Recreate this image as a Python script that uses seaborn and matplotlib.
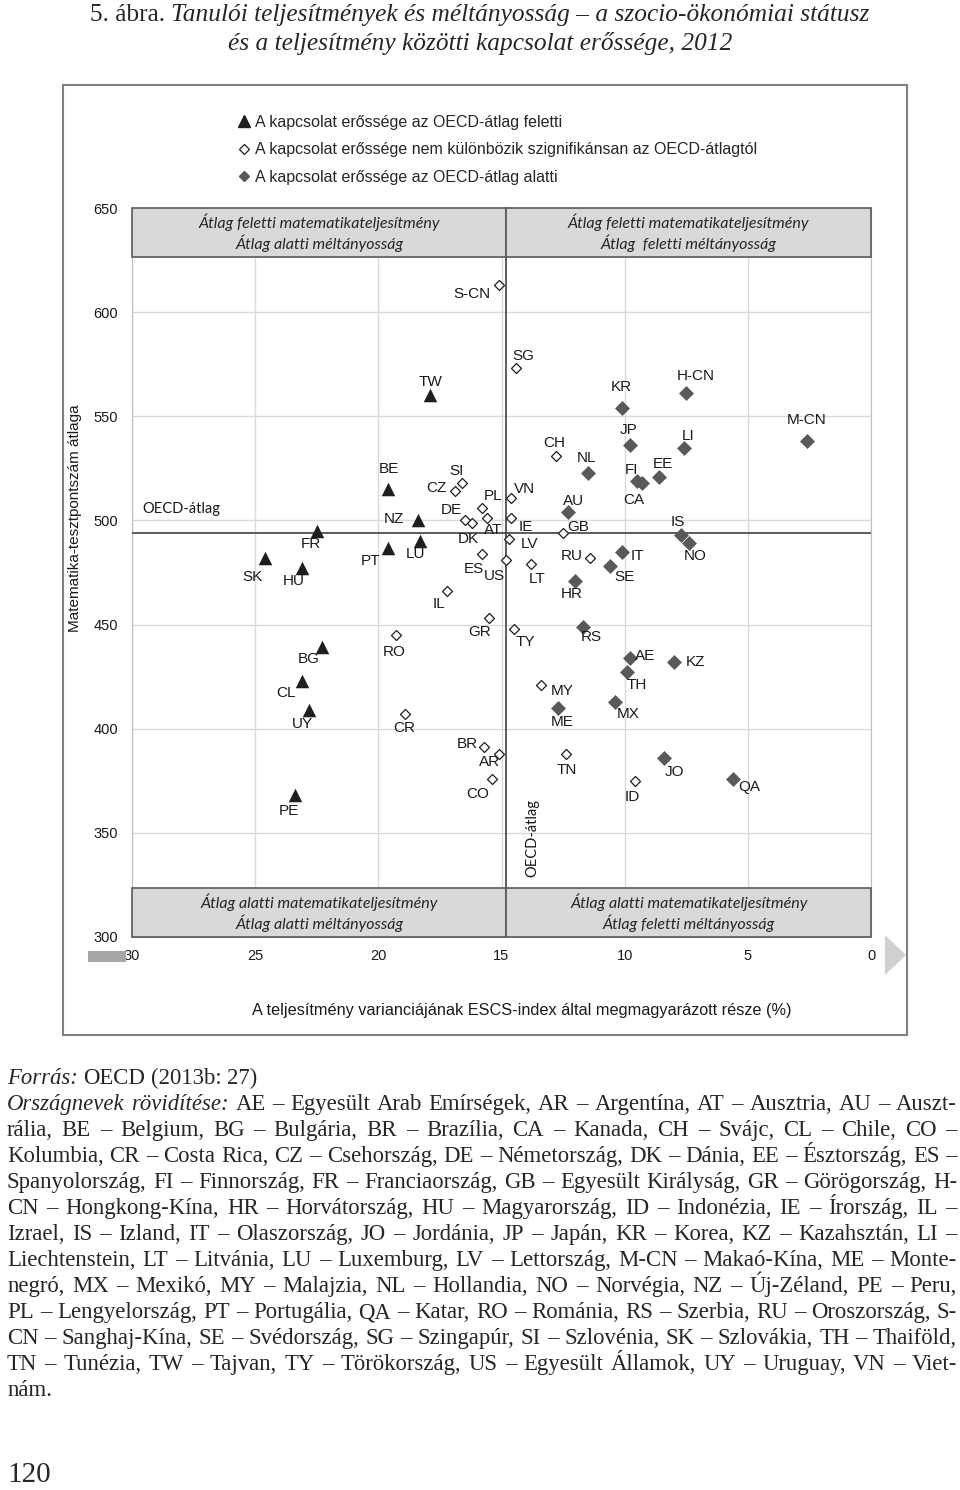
import matplotlib
matplotlib.use('Agg')
import matplotlib.pyplot as plt
import matplotlib.patches as mpatches
from matplotlib.lines import Line2D
import pandas as pd
import seaborn as sns

# --- data (ESCS-variance %, mean maths score) ---
codes_above = ['TW', 'BE', 'NZ', 'FR', 'PT', 'LU', 'SK', 'HU', 'BG', 'CL', 'UY', 'PE']
escs_above = [17.9, 19.6, 18.4, 22.5, 19.6, 18.3, 24.6, 23.1, 22.3, 23.1, 22.8, 23.4]
math_above = [560, 515, 500, 495, 487, 490, 482, 477, 439, 423, 409, 368]

codes_ns = ['S-CN', 'SG', 'CH', 'SI', 'CZ', 'PL', 'AT', 'DE', 'DK', 'VN', 'IE', 'LV', 'ES', 'US',
            'LT', 'IL', 'GB', 'RU', 'GR', 'RO', 'CR', 'BR', 'AR', 'CO', 'TY', 'MY', 'TN', 'ID']
escs_ns = [15.1, 14.4, 12.8, 16.6, 16.9, 15.8, 15.6, 16.5, 16.2, 14.6, 14.6, 14.7, 15.8, 14.8,
           13.8, 17.2, 12.5, 11.4, 15.5, 19.3, 18.9, 15.7, 15.1, 15.4, 14.5, 13.4, 12.4, 9.6]
math_ns = [613, 573, 531, 518, 514, 506, 501, 500, 499, 511, 501, 491, 484, 481,
           479, 466, 494, 482, 453, 445, 407, 391, 388, 376, 448, 421, 388, 375]

codes_below = ['KR', 'H-CN', 'M-CN', 'JP', 'LI', 'NL', 'EE', 'FI', 'CA', 'AU', 'IT', 'IS',
               'NO', 'SE', 'HR', 'RS', 'AE', 'KZ', 'TH', 'MX', 'ME', 'JO', 'QA']
escs_below = [10.1, 7.5, 2.6, 9.8, 7.6, 11.5, 8.6, 9.5, 9.3, 12.3, 10.1, 7.7,
              7.4, 10.6, 12.0, 11.7, 9.8, 8.0, 9.9, 10.4, 12.7, 8.4, 5.6]
math_below = [554, 561, 538, 536, 535, 523, 521, 519, 518, 504, 485, 493,
              489, 478, 471, 449, 434, 432, 427, 413, 410, 386, 376]

oecd_escs = 14.8
oecd_math = 494

x_ticks = [30, 25, 20, 15, 10, 5, 0]
y_ticks = [300, 350, 400, 450, 500, 550, 600, 650]

legend_labels = ['A kapcsolat erőssége az OECD-átlag feletti',
                 'A kapcsolat erőssége nem különbözik szignifikánsan az OECD-átlagtól',
                 'A kapcsolat erőssége az OECD-átlag alatti']

# label offsets in pixels (dx, dy up)
label_off = {
    'TW': (0, 13), 'BE': (1, 20), 'NZ': (-24, 1), 'FR': (-6, -13), 'PT': (-18, -13),
    'LU': (-5, -13), 'SK': (-13, -19), 'HU': (-8, -13), 'BG': (-13, -12), 'CL': (-16, -12),
    'UY': (-7, -14), 'PE': (-6, -16),
    'S-CN': (-27, -9), 'SG': (7, 12), 'CH': (-1, 13), 'SI': (-6, 12), 'CZ': (-18, 3),
    'PL': (11, 12), 'AT': (6, -12), 'DE': (-13, 10), 'DK': (-4, -16), 'VN': (13, 9),
    'IE': (14, -9), 'LV': (21, -5), 'ES': (-8, -15), 'US': (-12, -16), 'LT': (6, -15),
    'IL': (-8, -13), 'GB': (15, 6), 'RU': (-18, 2), 'GR': (-10, -14), 'RO': (-1, -17),
    'CR': (-1, -14), 'BR': (-17, 3), 'AR': (-10, -8), 'CO': (-14, -15), 'TY': (12, -13),
    'MY': (21, -6), 'TN': (1, -16), 'ID': (-2, -16),
    'KR': (-1, 21), 'H-CN': (9, 17), 'M-CN': (0, 21), 'JP': (-1, 15), 'LI': (4, 12),
    'NL': (-1, 15), 'EE': (4, 13), 'FI': (-5, 11), 'CA': (-8, -17), 'AU': (6, 11),
    'IT': (15, -4), 'IS': (-4, 13), 'NO': (6, -13), 'SE': (15, -11), 'HR': (-4, -13),
    'RS': (9, -10), 'AE': (16, 2), 'KZ': (22, 0), 'TH': (10, -13), 'MX': (13, -12),
    'ME': (4, -14), 'JO': (10, -14), 'QA': (16, -8),
}

caption = [
    (1, 'Forrás: OECD (2013b: 27)', False),
    (2, 'Országnevek rövidítése: AE – Egyesült Arab Emírségek, AR – Argentína, AT – Ausztria, AU – Auszt-', True),
    (0, 'rália, BE – Belgium, BG – Bulgária, BR – Brazília, CA – Kanada, CH – Svájc, CL – Chile, CO –', True),
    (0, 'Kolumbia, CR – Costa Rica, CZ – Csehország, DE – Németország, DK – Dánia, EE – Észtország, ES –', True),
    (0, 'Spanyolország, FI – Finnország, FR – Franciaország, GB – Egyesült Királyság, GR – Görögország, H-', True),
    (0, 'CN – Hongkong-Kína, HR – Horvátország, HU – Magyarország, ID – Indonézia, IE – Írország, IL –', True),
    (0, 'Izrael, IS – Izland, IT – Olaszország, JO – Jordánia, JP – Japán, KR – Korea, KZ – Kazahsztán, LI –', True),
    (0, 'Liechtenstein, LT – Litvánia, LU – Luxemburg, LV – Lettország, M-CN – Makaó-Kína, ME – Monte-', True),
    (0, 'negró, MX – Mexikó, MY – Malajzia, NL – Hollandia, NO – Norvégia, NZ – Új-Zéland, PE – Peru,', True),
    (0, 'PL – Lengyelország, PT – Portugália, QA – Katar, RO – Románia, RS – Szerbia, RU – Oroszország, S-', True),
    (0, 'CN – Sanghaj-Kína, SE – Svédország, SG – Szingapúr, SI – Szlovénia, SK – Szlovákia, TH – Thaiföld,', True),
    (0, 'TN – Tunézia, TW – Tajvan, TY – Törökország, US – Egyesült Államok, UY – Uruguay, VN – Viet-', True),
    (0, 'nám.', False),
]

W, H = 960, 1490
sns.set_style('white')
plt.rcParams['font.family'] = ['Liberation Sans', 'DejaVu Sans']

fig = plt.figure(figsize=(W / 100, H / 100), dpi=100)
renderer = fig.canvas.get_renderer()


def fx(px):
    return px / W


def fy(py):
    return 1 - py / H


ax = fig.add_axes([fx(132), fy(937), 739 / W, 729 / H])

df_above = pd.DataFrame({'escs': escs_above, 'math': math_above, 'code': codes_above})
df_ns = pd.DataFrame({'escs': escs_ns, 'math': math_ns, 'code': codes_ns})
df_below = pd.DataFrame({'escs': escs_below, 'math': math_below, 'code': codes_below})

sns.scatterplot(data=df_above, x='escs', y='math', marker='^', s=95, color='#1e1e1e',
                linewidth=0, ax=ax, zorder=5)
sns.scatterplot(data=df_ns, x='escs', y='math', marker='D', s=26, color='white',
                edgecolor='#1e1e1e', linewidth=0.9, ax=ax, zorder=5)
sns.scatterplot(data=df_below, x='escs', y='math', marker='D', s=58, color='#595959',
                linewidth=0, ax=ax, zorder=5)

for df in (df_above, df_ns, df_below):
    for _, r in df.iterrows():
        ax.annotate(r['code'], (r['escs'], r['math']), xytext=label_off[r['code']],
                    textcoords='offset pixels', ha='center', va='center',
                    fontsize=11, color='#1a1a1a', zorder=6)

ax.set_xlim(30, 0)
ax.set_ylim(300, 650)
ax.set_xticks(x_ticks)
ax.set_yticks(y_ticks)
ax.set_xlabel('')
ax.set_ylabel('')
ax.grid(True, color='#d9d9d9', lw=1)
ax.set_axisbelow(True)
ax.tick_params(length=0, labelsize=10.5, colors='#1a1a1a')
ax.tick_params(axis='x', pad=9)
ax.tick_params(axis='y', pad=10)
for sp in ax.spines.values():
    sp.set_color('#bfbfbf')

ax.axvline(oecd_escs, color='#404040', lw=1.2, zorder=3)
ax.axhline(oecd_math, color='#404040', lw=1.2, zorder=3)

ax.text(28.0, oecd_math + 11.5, 'OECD-átlag', family=['Lato', 'DejaVu Sans'], fontsize=10.5,
        ha='center', va='center', color='#1a1a1a')
ax.text(oecd_escs - 1.05, 347.5, 'OECD-átlag', family=['Lato', 'DejaVu Sans'], fontsize=10.5,
        rotation=90, ha='center', va='center', color='#1a1a1a')

# quadrant boxes
box_h = 23.5
quad = [
    ((30, oecd_escs), 650 - box_h, 'Átlag feletti matematikateljesítmény', 'Átlag alatti méltányosság'),
    ((oecd_escs, 0), 650 - box_h, 'Átlag feletti matematikateljesítmény', 'Átlag  feletti méltányosság'),
    ((30, oecd_escs), 300, 'Átlag alatti matematikateljesítmény', 'Átlag alatti méltányosság'),
    ((oecd_escs, 0), 300, 'Átlag alatti matematikateljesítmény', 'Átlag feletti méltányosság'),
]
for (xa, xb), y0, l1, l2 in quad:
    ax.add_patch(mpatches.Rectangle((xb, y0), xa - xb, box_h, facecolor='#d9d9d9',
                                    edgecolor='#595959', lw=1.2, zorder=4, clip_on=False))
    xc = (xa + xb) / 2
    ax.text(xc, y0 + box_h * 0.71, l1, family=['Lato', 'DejaVu Sans'], style='italic',
            fontsize=11.5, ha='center', va='center', color='#262626', zorder=6)
    ax.text(xc, y0 + box_h * 0.28, l2, family=['Lato', 'DejaVu Sans'], style='italic',
            fontsize=11.5, ha='center', va='center', color='#262626', zorder=6)

# legend
handles = [
    Line2D([], [], marker='^', ls='none', color='#1e1e1e', markersize=8),
    Line2D([], [], marker='D', ls='none', markerfacecolor='white', markeredgecolor='#1e1e1e',
           markersize=5, markeredgewidth=0.9),
    Line2D([], [], marker='D', ls='none', color='#595959', markersize=5.5),
]
ax.legend(handles, legend_labels, loc='upper left', bbox_to_anchor=(fx(238), fy(115)),
          bbox_transform=fig.transFigure, frameon=False, fontsize=11.5, handlelength=0.7,
          handletextpad=0.35, labelspacing=0.78, borderpad=0, borderaxespad=0)

# axis titles
fig.text(fx(75), fy(518), 'Matematika-tesztpontszám átlaga', rotation=90, ha='center',
         va='center', fontsize=11, color='#1a1a1a')
fig.text(fx(522), fy(1010), 'A teljesítmény varianciájának ESCS-index által megmagyarázott része (%)',
         ha='center', va='center', fontsize=11.7, color='#1a1a1a')

# outer frame and axis arrow
fig.patches.append(mpatches.Rectangle((fx(63), fy(1035)), (907 - 63) / W, (1035 - 85) / H,
                                      transform=fig.transFigure, fill=False,
                                      edgecolor='#808080', lw=1.5))
fig.patches.append(mpatches.Rectangle((fx(88), fy(962)), 38 / W, 11 / H,
                                      transform=fig.transFigure, facecolor='#a6a6a6',
                                      edgecolor='none', zorder=0))
fig.patches.append(mpatches.Polygon([(fx(885), fy(935)), (fx(906), fy(955)), (fx(885), fy(975))],
                                    transform=fig.transFigure, facecolor='#d0d0d0',
                                    edgecolor='none'))

# title
serif = ['Liberation Serif', 'DejaVu Serif']
t1 = fig.text(0, fy(21), '5. ábra.', family=serif, fontsize=18.3, va='baseline')
t2 = fig.text(0, fy(21), 'Tanulói teljesítmények és méltányosság – a szocio-ökonómiai státusz',
              family=serif, style='italic', fontsize=18.3, va='baseline')
w1 = t1.get_window_extent(renderer).width
w2 = t2.get_window_extent(renderer).width
start = 480 - (w1 + 6 + w2) / 2
t1.set_x(fx(start))
t2.set_x(fx(start + w1 + 6))
fig.text(0.5, fy(50), 'és a teljesítmény közötti kapcsolat erőssége, 2012', family=serif,
         style='italic', fontsize=18.3, va='baseline', ha='center')

# caption, justified
left, right = 7, 957
for i, (n_it, line, just) in enumerate(caption):
    base = 1084 + 26 * i
    words = line.split(' ')
    ts = [fig.text(0, fy(base), w, family=serif, fontsize=16.4, va='baseline',
                   style='italic' if k < n_it else 'normal') for k, w in enumerate(words)]
    ws = [t.get_window_extent(renderer).width for t in ts]
    gap = (right - left - sum(ws)) / (len(ws) - 1) if just and len(ws) > 1 else 5.5
    x = left
    for t, w in zip(ts, ws):
        t.set_x(fx(x))
        x += w + gap

fig.text(fx(7), fy(1482), '120', family=serif, fontsize=21, va='baseline')

fig.savefig('out.png', dpi=100)
